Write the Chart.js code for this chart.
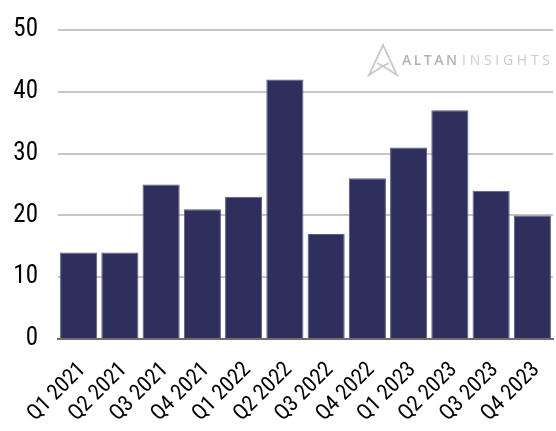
<!DOCTYPE html>
<html>
<head>
<meta charset="utf-8">
<script src="https://cdn.jsdelivr.net/npm/chart.js@4/dist/chart.umd.min.js"></script>
<style>
  html, body { margin: 0; padding: 0; background: #ffffff; }
  #wrap { width: 556px; height: 431px; }
</style>
</head>
<body>
<div id="wrap"><canvas id="chart" width="556" height="431"></canvas></div>
<script>
// Quarterly values
const quarters = ["Q1 2021", "Q2 2021", "Q3 2021", "Q4 2021",
                  "Q1 2022", "Q2 2022", "Q3 2022", "Q4 2022",
                  "Q1 2023", "Q2 2023", "Q3 2023", "Q4 2023"];
const counts = [14, 14, 25, 21, 23, 42, 17, 26, 31, 37, 24, 20];
const yTicks = [0, 10, 20, 30, 40, 50];

const FONT = "'Roboto Condensed', 'Liberation Sans Narrow', Roboto, sans-serif";

// Brand mark drawn in the upper right of the plot area
const brandMark = {
  id: 'brandMark',
  afterDraw(chart) {
    const ctx = chart.ctx;
    ctx.save();
    const x0 = 369, yTop = 45, yBot = 75, w = 28;
    const cx = x0 + w / 2;
    ctx.strokeStyle = '#c9c9c9';
    ctx.lineWidth = 1.8;
    ctx.lineJoin = 'miter';
    // outer triangle with inner fold
    ctx.beginPath();
    ctx.moveTo(cx, yTop);
    ctx.lineTo(x0 + w, yBot);
    ctx.lineTo(cx, yBot - 9);
    ctx.lineTo(x0, yBot);
    ctx.closePath();
    ctx.stroke();
    ctx.beginPath();
    ctx.moveTo(cx - 6, yBot - 12);
    ctx.lineTo(cx, yBot - 9);
    ctx.lineTo(cx + 6, yBot - 12);
    ctx.stroke();

    // spaced wordmark, fitted between two x positions
    const base = 65;
    const drawSpaced = (s, font, color, xStart, xEnd) => {
      ctx.font = font;
      ctx.fillStyle = color;
      const widths = [...s].map(ch => ctx.measureText(ch).width);
      const total = widths.reduce((a, b) => a + b, 0);
      const sp = (xEnd - xStart - total) / (s.length - 1);
      let x = xStart;
      [...s].forEach((ch, i) => { ctx.fillText(ch, x, base); x += widths[i] + sp; });
    };
    drawSpaced('ALTAN', "600 14px 'Open Sans', sans-serif", '#b3b3b3', 402, 457);
    drawSpaced('INSIGHTS', "400 14px 'Open Sans', sans-serif", '#cbcbcb', 462, 550);
    ctx.restore();
  }
};

new Chart(document.getElementById('chart'), {
  type: 'bar',
  data: {
    labels: quarters,
    datasets: [{
      data: counts,
      backgroundColor: '#2e2f5c',
      borderColor: '#5a5b80',
      borderWidth: 1,
      barPercentage: 0.9,
      categoryPercentage: 1.0
    }]
  },
  options: {
    responsive: false,
    animation: false,
    devicePixelRatio: 1,
    layout: { padding: { top: 30, right: 3, left: 0, bottom: 0 } },
    plugins: { legend: { display: false }, tooltip: { enabled: false } },
    scales: {
      x: {
        grid: { display: false, drawTicks: false },
        border: { display: true, color: '#6e6e6e', width: 2 },
        ticks: {
          color: '#000000',
          font: { family: FONT, size: 22 },
          minRotation: 45,
          maxRotation: 45,
          padding: 18,
          labelOffset: 4,
          autoSkip: false
        },
        afterFit(axis) {
          axis.height = 92;
          axis.paddingLeft = 0;
          axis.paddingRight = 0;
        }
      },
      y: {
        min: 0,
        max: 50,
        afterBuildTicks(axis) { axis.ticks = yTicks.map(v => ({ value: v })); },
        grid: { color: '#c6c6c6', lineWidth: 2, drawTicks: false },
        border: { display: false },
        ticks: {
          color: '#000000',
          font: { family: FONT, size: 25 },
          padding: 20
        },
        afterFit(axis) {
          axis.width = 58;
          axis.paddingTop = 0;
          axis.paddingBottom = 0;
        }
      }
    }
  },
  plugins: [brandMark]
});
</script>
</body>
</html>
